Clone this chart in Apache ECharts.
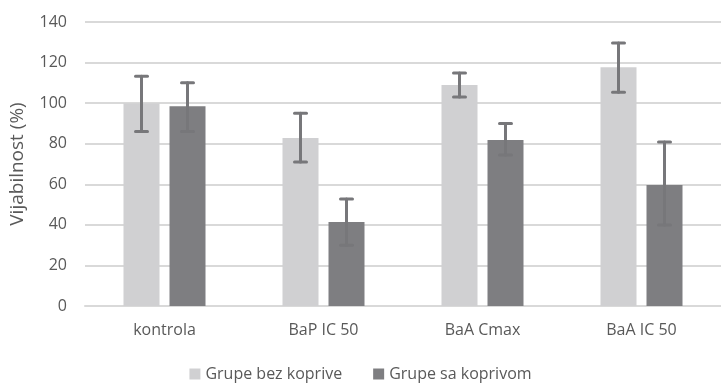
<!DOCTYPE html>
<html><head><meta charset="utf-8">
<script src="https://cdn.jsdelivr.net/npm/echarts@6/dist/echarts.min.js"></script>
<style>html,body{margin:0;padding:0;background:#fff}#c{width:721px;height:384px}</style>
</head><body><div id="c"></div>
<script>
const categories = ['kontrola', 'BaP IC 50', 'BaA Cmax', 'BaA IC 50'];
const seriesNames = ['Grupe bez koprive', 'Grupe sa koprivom'];
const bezKoprive = [100, 82.8, 108.9, 117.7];
const bezKopriveLow = [86, 71, 103, 105.4];
const bezKopriveHigh = [113.3, 95, 114.8, 129.6];
const saKoprivom = [98.5, 41.4, 81.8, 59.6];
const saKoprivomLow = [86, 30, 74.4, 39.9];
const saKoprivomHigh = [110, 52.7, 90, 80.8];
const yTicks = [0, 20, 40, 60, 80, 100, 120, 140];

const BAR_W = 36, GAP = 10;
const errColor = '#77777a';
function errSeries(low, high, side) {
  return {
    type: 'custom',
    z: 10,
    data: categories.map((c, i) => [i, low[i], high[i]]),
    renderItem: function (params, api) {
      const i = api.value(0);
      const lo = api.coord([i, api.value(1)]);
      const hi = api.coord([i, api.value(2)]);
      const x = lo[0] + side * (BAR_W + GAP) / 2;
      const cap = 6;
      const st = { stroke: errColor, lineWidth: 3, lineCap: 'round' };
      return {
        type: 'group',
        children: [
          { type: 'line', shape: { x1: x, y1: lo[1], x2: x, y2: hi[1] }, style: st },
          { type: 'line', shape: { x1: x - cap, y1: lo[1], x2: x + cap, y2: lo[1] }, style: st },
          { type: 'line', shape: { x1: x - cap, y1: hi[1], x2: x + cap, y2: hi[1] }, style: st }
        ]
      };
    },
    silent: true,
    tooltip: { show: false }
  };
}

const font = '"Open Sans", sans-serif';
const chart = echarts.init(document.getElementById('c'));
chart.setOption({
  animation: false,
  textStyle: { fontFamily: font },
  grid: { left: 84, right: -3, top: 22, bottom: 78, containLabel: false },
  legend: {
    top: 361, left: 'center',
    itemWidth: 11, itemHeight: 11, itemGap: 31,
    icon: 'rect',
    textStyle: { color: '#595959', fontSize: 16, fontFamily: font },
    data: seriesNames
  },
  xAxis: {
    type: 'category',
    data: categories,
    axisTick: { show: false },
    axisLine: { lineStyle: { color: '#d9d9d9', width: 2 } },
    axisLabel: { color: '#595959', fontSize: 16, margin: 16, fontFamily: font }
  },
  yAxis: {
    type: 'value',
    min: 0, max: 140, interval: 20,
    name: 'Vijabilnost (%)',
    nameLocation: 'middle',
    nameGap: 58,
    nameTextStyle: { color: '#595959', fontSize: 19, fontFamily: font },
    axisLine: { show: false },
    axisTick: { show: false },
    splitLine: { lineStyle: { color: '#d9d9d9', width: 2 } },
    axisLabel: { color: '#595959', fontSize: 16, margin: 18, fontFamily: font,
      formatter: v => yTicks.includes(v) ? String(v) : '' }
  },
  series: [
    { name: seriesNames[0], type: 'bar', data: bezKoprive, barWidth: BAR_W, barGap: (GAP / BAR_W * 100) + '%',
      itemStyle: { color: '#d0d0d2' } },
    { name: seriesNames[1], type: 'bar', data: saKoprivom, barWidth: BAR_W,
      itemStyle: { color: '#7e7e81' } },
    errSeries(bezKopriveLow, bezKopriveHigh, -1),
    errSeries(saKoprivomLow, saKoprivomHigh, 1)
  ]
});
</script></body></html>
